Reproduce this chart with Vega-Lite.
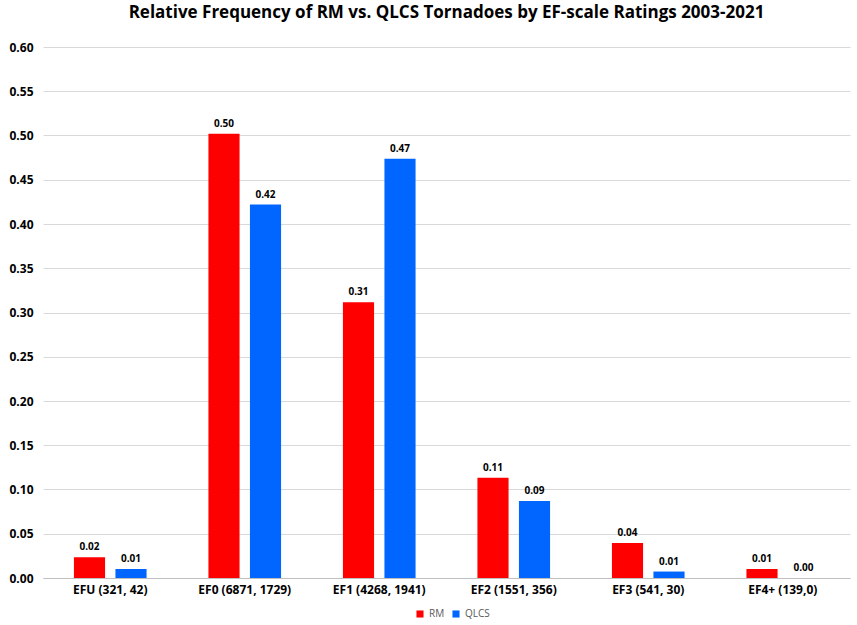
{
  "$schema": "https://vega.github.io/schema/vega-lite/v6.json",
  "width": 807,
  "height": 531,
  "autosize": {"type": "none"},
  "padding": {"left": 43, "top": 47, "right": 7, "bottom": 47},
  "background": "white",
  "title": {
    "text": "Relative Frequency of RM vs. QLCS Tornadoes  by EF-scale Ratings 2003-2021",
    "font": "Open Sans",
    "fontSize": 17,
    "fontWeight": "bold",
    "color": "#000000",
    "anchor": "middle",
    "offset": 19
  },
  "config": {
    "view": {"stroke": null},
    "font": "Open Sans"
  },
  "data": {
    "values": [
      {"category": "EFU (321, 42)", "type": "RM", "value": 0.0234},
      {"category": "EFU (321, 42)", "type": "QLCS", "value": 0.0102},
      {"category": "EF0 (6871, 1729)", "type": "RM", "value": 0.5019},
      {"category": "EF0 (6871, 1729)", "type": "QLCS", "value": 0.4219},
      {"category": "EF1 (4268, 1941)", "type": "RM", "value": 0.3117},
      {"category": "EF1 (4268, 1941)", "type": "QLCS", "value": 0.4737},
      {"category": "EF2 (1551, 356)", "type": "RM", "value": 0.1133},
      {"category": "EF2 (1551, 356)", "type": "QLCS", "value": 0.0869},
      {"category": "EF3 (541, 30)", "type": "RM", "value": 0.0395},
      {"category": "EF3 (541, 30)", "type": "QLCS", "value": 0.0073},
      {"category": "EF4+ (139,0)", "type": "RM", "value": 0.0102},
      {"category": "EF4+ (139,0)", "type": "QLCS", "value": 0.0}
    ]
  },
  "encoding": {
    "x": {
      "field": "category",
      "type": "nominal",
      "sort": null,
      "scale": {"paddingInner": 0.46, "paddingOuter": 0.23},
      "axis": {
        "title": null,
        "labelAngle": 0,
        "labelFont": "Open Sans",
        "labelFontSize": 12,
        "labelFontWeight": "bold",
        "labelColor": "#000000",
        "domainColor": "#bfbfbf",
        "ticks": false,
        "labelPadding": 6
      }
    },
    "xOffset": {
      "field": "type",
      "type": "nominal",
      "sort": ["RM", "QLCS"],
      "scale": {"paddingInner": 0.25, "paddingOuter": 0}
    },
    "y": {
      "field": "value",
      "type": "quantitative",
      "scale": {"domain": [0, 0.6]},
      "axis": {
        "title": null,
        "values": [0, 0.05, 0.1, 0.15, 0.2, 0.25, 0.3, 0.35, 0.4, 0.45, 0.5, 0.55, 0.6],
        "format": ".2f",
        "domain": false,
        "ticks": false,
        "labelFont": "Open Sans",
        "labelFontSize": 12,
        "labelFontWeight": "bold",
        "labelColor": "#000000",
        "labelPadding": 10,
        "gridColor": "#d9d9d9",
        "gridWidth": 1
      }
    }
  },
  "layer": [
    {
      "mark": {"type": "bar"},
      "encoding": {
        "color": {
          "field": "type",
          "type": "nominal",
          "sort": ["RM", "QLCS"],
          "scale": {"domain": ["RM", "QLCS"], "range": ["#ff0000", "#0066ff"]},
          "legend": {
            "title": null,
            "orient": "none",
            "legendX": 372,
            "legendY": 562,
            "direction": "horizontal",
            "symbolType": "square",
            "symbolSize": 50,
            "symbolStrokeWidth": 0,
            "labelFontSize": 10,
            "labelColor": "#595959",
            "columnPadding": 6,
            "padding": 0
          }
        }
      }
    },
    {
      "mark": {
        "type": "text",
        "dy": -10,
        "fontSize": 10,
        "fontWeight": "bold",
        "font": "Open Sans",
        "color": "#000000"
      },
      "encoding": {
        "text": {"field": "value", "type": "quantitative", "format": ".2f"}
      }
    }
  ]
}
